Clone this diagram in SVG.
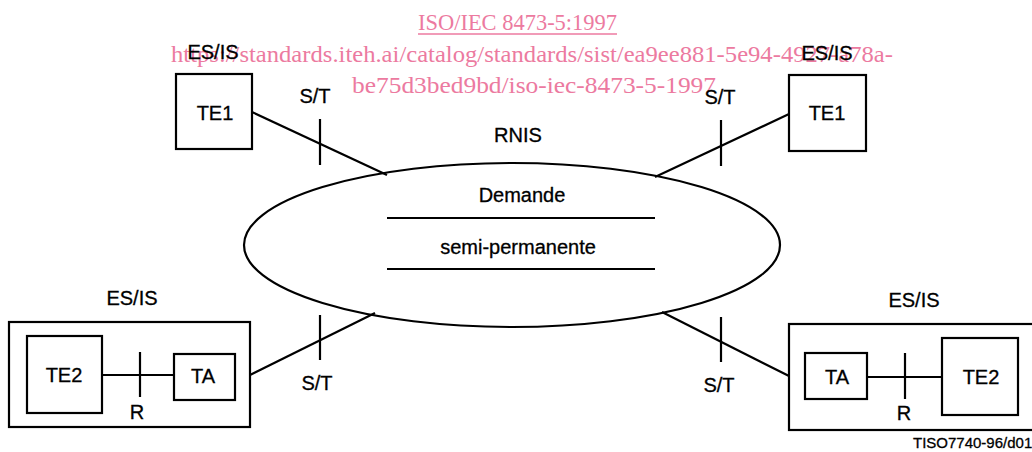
<svg xmlns="http://www.w3.org/2000/svg" width="1032" height="452" viewBox="0 0 1032 452">
<style>
.wm{font-family:"Liberation Serif","Times New Roman",serif;font-size:24px;fill:#EC7AA0}
.t{font-family:"Liberation Sans",Arial,sans-serif;font-size:20px;fill:#000;text-anchor:middle;stroke:#000;stroke-width:0.3}
.s{fill:none;stroke:#000;stroke-width:2.2}
.b{fill:#fff;stroke:#000;stroke-width:2.2}
</style>
<rect width="1032" height="452" fill="#fff"/>
<g id="watermark">
<text class="wm" x="418" y="30" textLength="199" lengthAdjust="spacingAndGlyphs">ISO/IEC 8473-5:1997</text>
<line x1="418" y1="34" x2="617" y2="34" stroke="#EC7AA0" stroke-width="1.5"/>
<text class="wm" x="171" y="62" textLength="722" lengthAdjust="spacingAndGlyphs">https://standards.iteh.ai/catalog/standards/sist/ea9ee881-5e94-4927-a78a-</text>
<text class="wm" x="352" y="93" textLength="364" lengthAdjust="spacingAndGlyphs">be75d3bed9bd/iso-iec-8473-5-1997</text>
</g>
<g id="connectors">
<line class="s" x1="252" y1="112" x2="387" y2="175"/>
<line class="s" x1="320" y1="119" x2="320" y2="165"/>
<line class="s" x1="789" y1="114" x2="655" y2="177"/>
<line class="s" x1="721" y1="120" x2="721" y2="166"/>
<line class="s" x1="250" y1="375" x2="375" y2="313"/>
<line class="s" x1="320" y1="315" x2="320" y2="360"/>
<line class="s" x1="662" y1="312" x2="789" y2="376"/>
<line class="s" x1="721" y1="317" x2="721" y2="362"/>
<line class="s" x1="102" y1="375" x2="174" y2="375"/>
<line class="s" x1="140" y1="352" x2="140" y2="397"/>
<line class="s" x1="867" y1="377" x2="942" y2="377"/>
<line class="s" x1="905" y1="353" x2="905" y2="399"/>
<text class="t" x="315" y="103">S/T</text>
<text class="t" x="720" y="104">S/T</text>
<text class="t" x="317" y="390">S/T</text>
<text class="t" x="719" y="392">S/T</text>
<text class="t" x="137" y="419">R</text>
<text class="t" x="904" y="420">R</text>
</g>
<g id="rnis">
<ellipse class="s" cx="512" cy="245" rx="268" ry="82"/>
<text class="t" x="518" y="142">RNIS</text>
<text class="t" x="522" y="202" font-size="21">Demande</text>
<line class="s" x1="387" y1="218" x2="655" y2="218"/>
<text class="t" x="518" y="254" font-size="21">semi-permanente</text>
<line class="s" x1="387" y1="269" x2="655" y2="269"/>
</g>
<g id="te1-left">
<text class="t" x="213" y="59">ES/IS</text>
<rect class="b" x="176" y="74" width="76" height="75"/>
<text class="t" x="215" y="120" font-size="21">TE1</text>
</g>
<g id="te1-right">
<text class="t" x="827" y="60">ES/IS</text>
<rect class="b" x="789" y="75" width="77" height="76"/>
<text class="t" x="827" y="120" font-size="21">TE1</text>
</g>
<g id="esis-left">
<text class="t" x="132" y="305">ES/IS</text>
<rect class="s" x="9" y="322" width="241" height="105"/>
</g>
<g id="te2-left">
<rect class="b" x="27" y="336" width="75" height="77"/>
<text class="t" x="64" y="382" font-size="21">TE2</text>
</g>
<g id="ta-left">
<rect class="b" x="174" y="354" width="61" height="46"/>
<text class="t" x="203" y="383" font-size="21">TA</text>
</g>
<g id="esis-right">
<text class="t" x="914" y="307">ES/IS</text>
<rect class="s" x="789" y="324" width="260" height="106"/>
</g>
<g id="ta-right">
<rect class="b" x="805" y="353" width="62" height="46"/>
<text class="t" x="837" y="384" font-size="21">TA</text>
</g>
<g id="te2-right">
<rect class="b" x="942" y="338" width="76" height="77"/>
<text class="t" x="981" y="384" font-size="21">TE2</text>
</g>
<text x="913" y="448" font-family="Liberation Sans, Arial, sans-serif" font-size="15" fill="#000" stroke="#000" stroke-width="0.3">TISO7740-96/d01</text>
</svg>
